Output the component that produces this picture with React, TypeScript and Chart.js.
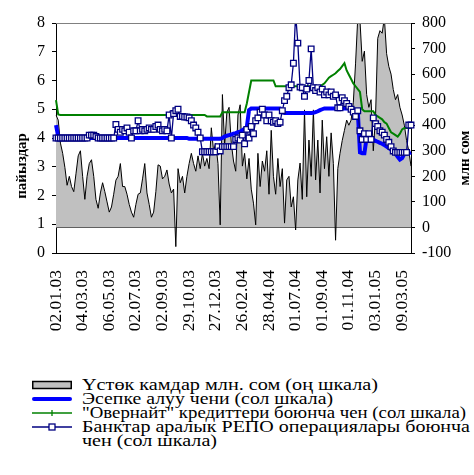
import React, { useEffect, useRef } from 'react';
import { Chart, registerables } from 'chart.js';

Chart.register(...registerables);

const tickDates = ['02.01.03', '04.03.03', '06.05.03', '02.07.03', '02.09.03', '29.10.03', '27.12.03', '26.02.04', '28.04.04', '01.07.04', '01.09.04', '01.11.04', '03.01.05', '09.03.05'];
const pointsPerTick = 12;

const leftTitle = 'пайыздар';
const rightTitle = 'млн сом';

const seriesNames = [
  'Үстөк камдар млн. сом (оң шкала)',
  'Эсепке алуу чени (сол шкала)',
  '"Овернайт" кредиттери боюнча чен (сол шкала)',
  'Банктар аралык РЕПО операциялары боюнча',
  'чен (сол шкала)',
];

// excess reserves, mln som (right scale)
const reserves = [
  440, 420, 330, 290, 235, 165, 200, 160, 140, 210,
  280, 300, 200, 110, 200, 250, 265, 200, 110, 75,
  135, 175, 140, 100, 60, 80, 130, 185, 200, 250,
  160, 160, 130, 90, 60, 40, 90, 130, 135, 190,
  250, 135, 90, 40, 60, 140, 245, 240, 190, 200,
  225, 170, 135, 150, -75, 230, 175, 200, 135, 200,
  250, 290, 250, 220, 280, 230, 290, 240, 270, 230,
  390, 300, 330, 250, 10, 520, 320, 450, 470, 330,
  260, 220, 440, 480, 240, 290, 190, 270, 150, 95,
  10, 290, 160, 260, 220, 300, 130, 380, 200, 130,
  270, 160, 230, 17, 186, 200, 80, 120, -10, 186,
  252, 110, 460, 120, 342, 200, 460, 186, 342, 135,
  420, 230, 355, 200, 370, 250, -50, 230, 290, 340,
  380, 420, 400, 420, 490, 640, 820, 810, 650, 690,
  520, 470, 500, 300, 430, 740, 770, 760, 820, 680,
  630, 600, 540, 500, 520, 470, 440, 400, 340, 300,
  240,
];

// discount rate, % (left scale)
const discountRate = [
  4.45, 4.05, 4, 4, 4, 4, 4, 4, 4, 4,
  4, 4, 4, 4, 4, 4, 4, 4, 4, 4,
  4, 4, 4, 4, 4, 4, 4, 4, 4, 4,
  4, 4, 4, 4, 4, 4, 4, 4, 4, 4,
  4, 4, 4, 4, 4, 4, 4, 4, 4, 4,
  4, 4, 4, 4, 4, 4, 4, 4, 4, 4,
  3.97, 3.97, 3.97, 3.97, 3.97, 3.97, 3.97, 3.97, 3.97, 3.97,
  3.97, 3.97, 3.97, 3.97, 3.97, 4, 4.05, 4.08, 4.1, 4.12,
  4.15, 4.17, 4.2, 4.22, 4.27, 4.33, 4.38, 4.97, 5.03, 5.03,
  5.03, 5.03, 5.03, 5.03, 5.03, 5.03, 5.03, 5.03, 5.03, 5.03,
  5.03, 5.03, 4.9, 4.87, 4.87, 4.87, 4.87, 4.87, 4.87, 4.87,
  4.87, 4.87, 4.87, 4.87, 4.87, 4.87, 4.88, 4.9, 4.93, 4.97,
  5, 5.03, 5.03, 5.03, 5.03, 5.03, 5.03, 5.03, 5.03, 5.03,
  5.03, 5.03, 5.03, 5.03, 5, 4.97, 4.95, 3.5, 3.47, 3.47,
  4.02, 4, 3.98, 3.95, 3.9, 3.87, 3.83, 3.8, 3.75, 3.7,
  3.65, 3.6, 3.55, 3.45, 3.35, 3.25, 3.3, 3.45, 3.47, 3.47,
  3.5,
];

// overnight credit rate, % (left scale)
const overnightRate = [
  5.32, 4.82, 4.8, 4.8, 4.8, 4.8, 4.8, 4.8, 4.8, 4.8,
  4.8, 4.8, 4.8, 4.8, 4.8, 4.8, 4.8, 4.8, 4.8, 4.8,
  4.8, 4.8, 4.8, 4.8, 4.8, 4.8, 4.8, 4.8, 4.8, 4.8,
  4.8, 4.8, 4.8, 4.8, 4.8, 4.8, 4.8, 4.8, 4.8, 4.8,
  4.8, 4.8, 4.8, 4.8, 4.8, 4.8, 4.8, 4.8, 4.8, 4.8,
  4.8, 4.8, 4.8, 4.8, 4.8, 4.8, 4.8, 4.8, 4.8, 4.8,
  4.8, 4.8, 4.8, 4.8, 4.8, 4.8, 4.8, 4.8, 4.75, 4.75,
  4.75, 4.75, 4.75, 4.75, 4.75, 4.9, 4.9, 4.9, 4.9, 4.9,
  4.9, 4.9, 4.9, 4.9, 4.9, 4.9, 5.2, 5.6, 6, 6,
  6, 6, 6, 6, 6, 6, 6, 6, 6, 5.8,
  5.8, 5.8, 5.8, 5.8, 5.8, 5.8, 5.8, 5.8, 5.8, 5.8,
  5.8, 5.8, 5.8, 5.8, 5.8, 5.8, 5.8, 5.8, 5.8, 5.8,
  5.85, 5.9, 6, 6.1, 6.15, 6.2, 6.25, 6.33, 6.4, 6.5,
  6.6, 6.35, 6.2, 6.05, 5.9, 5.8, 5.7, 5.6, 5, 4.93,
  4.93, 4.93, 4.93, 4.93, 4.8, 4.75, 4.7, 4.65, 4.55, 4.5,
  4.35, 4.2, 4.15, 4.1, 4.05, 4.15, 4.3, 4.35, 4.35, 4.35,
  4.35,
];

// interbank REPO rate, % (left scale)
const repoRate = [
  4, 4, 4, 4, 4, 4, 4, 4, 4, 4,
  4, 4, 4, 4, 4, 4.1, 4.1, 4.1, 4.05, 4,
  4, 4, 4, 4, 4, 4, 4, 4.47, 4.3, 4.2,
  4.3, 4.25, 4.35, 4.2, 4, 4.25, 4.25, 4.6, 4.25, 4.3,
  4.25, 4.3, 4.35, 4.3, 4.3, 4.4, 4.45, 4.3, 4.25, 4.3,
  4.25, 4.8, 4, 4.85, 4.95, 5, 4.75, 4.75, 4.73, 4.73,
  4.7, 4.6, 4.45, 4.35, 4.2, 4, 3.52, 3.52, 3.52, 3.52,
  3.52, 3.52, 3.52, 3.7, 3.55, 3.7, 3.7, 3.7, 3.7, 3.7,
  3.7, 3.95, 4, 3.93, 4.1, 3.8, 4.3, 4, 4.4, 4.15,
  4.6, 4.7, 4.9, 5, 4.8, 4.6, 4.8, 4.6, 4.55, 4.6,
  4.5, 4.55, 4.95, 5.3, 5.45, 5.75, 5.85, 6.6, 8.3, 7.3,
  5.77, 5.75, 5.45, 5.7, 6, 7.1, 5.75, 5.65, 5.75, 5.6,
  5.7, 5.5, 5.6, 5.5, 5.6, 5.45, 5.5, 5.05, 5.05, 5.4,
  5.3, 5.2, 5.1, 5, 4.9, 4.75, 4.95, 4.25, 3.95, 4.15,
  3.95, 4.15, 3.95, 4.7, 4.5, 4.4, 4.25, 4.2, 4.1, 3.95,
  3.85, 3.7, 3.55, 3.5, 3.5, 3.5, 3.5, 3.5, 3.5, 4.45,
  4.45,
];

const labels = reserves.map((_, i) =>
  i % pointsPerTick === 0 && tickDates[i / pointsPerTick] ? tickDates[i / pointsPerTick] : ''
);

const FONT = '"Liberation Serif", "Times New Roman", serif';
const LEGEND_FONT = `16.5px ${FONT}`;
// rendered widths (px) of the legend text lines
const legendLineWidths = [296, 251, 384, 388, 135];

let measureCtx: CanvasRenderingContext2D | null = null;
function fitScale(text: string, target: number): number {
  if (typeof document === 'undefined') return 1;
  if (!measureCtx) measureCtx = document.createElement('canvas').getContext('2d');
  if (!measureCtx) return 1;
  measureCtx.font = LEGEND_FONT;
  const w = measureCtx.measureText(text).width;
  return w > 0 ? target / w : 1;
}

const decorPlugin = {
  id: 'decor',
  afterDraw(chart: any) {
    const { ctx, chartArea: a } = chart;
    ctx.save();
    ctx.strokeStyle = '#808080';
    ctx.lineWidth = 1;
    ctx.beginPath();
    ctx.moveTo(a.left, a.top + 0.5);
    ctx.lineTo(a.right, a.top + 0.5);
    ctx.stroke();
    ctx.fillStyle = '#000';
    ctx.font = `bold 15px ${FONT}`;
    ctx.textAlign = 'center';
    ctx.textBaseline = 'middle';
    ctx.save();
    ctx.translate(22, 166);
    ctx.rotate(-Math.PI / 2);
    ctx.fillText(leftTitle, 0, 0);
    ctx.restore();
    ctx.save();
    ctx.translate(465, 158);
    ctx.rotate(-Math.PI / 2);
    ctx.fillText(rightTitle, 0, 0);
    ctx.restore();
    ctx.restore();
  },
};

function LegendIcon({ kind }: { kind: number }) {
  return (
    <svg width={40} height={14} style={{ display: 'block', flex: 'none' }}>
      {kind === 0 && <rect x={0.75} y={3.5} width={38.5} height={7} fill="#C0C0C0" stroke="#000" strokeWidth={1.5} />}
      {kind === 1 && <line x1={2} y1={7} x2={38} y2={7} stroke="#0000FF" strokeWidth={4} strokeLinecap="round" />}
      {kind === 2 && (
        <g>
          <line x1={0} y1={7} x2={40} y2={7} stroke="#008000" strokeWidth={1.3} />
          <line x1={20} y1={4} x2={20} y2={10} stroke="#008000" strokeWidth={1.3} />
        </g>
      )}
      {kind === 3 && (
        <g>
          <line x1={0} y1={7} x2={40} y2={7} stroke="#000080" strokeWidth={1.3} />
          <rect x={17} y={4} width={6} height={6} fill="#fff" stroke="#000080" strokeWidth={1.3} />
        </g>
      )}
    </svg>
  );
}

function LegendText({ idx, offset }: { idx: number; offset: number }) {
  const s = fitScale(seriesNames[idx], legendLineWidths[idx]);
  return (
    <span
      style={{
        marginLeft: offset,
        display: 'inline-block',
        transform: `scaleX(${s})`,
        transformOrigin: 'left center',
      }}
    >
      {seriesNames[idx]}
    </span>
  );
}

export default function App() {
  const ref = useRef<HTMLCanvasElement | null>(null);

  useEffect(() => {
    if (!ref.current) return;
    const yFont = { family: FONT, size: 16 };
    const xFont = { family: FONT, size: 17.5 };
    const chart = new Chart(ref.current, {
      type: 'line',
      data: {
        labels,
        datasets: [
          {
            label: seriesNames[0],
            data: reserves,
            yAxisID: 'y1',
            fill: 'origin',
            backgroundColor: '#C0C0C0',
            borderColor: '#000000',
            borderWidth: 1,
            pointRadius: 0,
            tension: 0,
            order: 4,
          },
          {
            label: seriesNames[1],
            data: discountRate,
            yAxisID: 'y',
            fill: false,
            borderColor: '#0000FF',
            borderWidth: 4,
            pointRadius: 0,
            tension: 0,
            order: 3,
          },
          {
            label: seriesNames[2],
            data: overnightRate,
            yAxisID: 'y',
            fill: false,
            borderColor: '#008000',
            borderWidth: 2,
            pointRadius: 0,
            tension: 0,
            order: 2,
          },
          {
            label: seriesNames[3],
            data: repoRate,
            yAxisID: 'y',
            fill: false,
            borderColor: '#000080',
            borderWidth: 1.3,
            pointStyle: 'rect',
            pointRadius: 4,
            pointBackgroundColor: '#FFFFFF',
            pointBorderColor: '#000080',
            pointBorderWidth: 1.3,
            tension: 0,
            order: 1,
          },
        ],
      },
      options: {
        animation: false,
        responsive: false,
        maintainAspectRatio: false,
        layout: { padding: { top: 23, left: 0, right: 0, bottom: 0 } },
        plugins: { legend: { display: false }, tooltip: { enabled: false } },
        scales: {
          x: {
            type: 'category',
            offset: false,
            grid: { display: false, drawTicks: false },
            border: { display: true, color: '#000', width: 1 },
            ticks: {
              autoSkip: false,
              maxRotation: 90,
              minRotation: 90,
              padding: 17,
              color: '#000',
              font: xFont,
            },
            afterFit: (s: any) => {
              s.height = 117;
            },
          },
          y: {
            position: 'left',
            min: 0,
            max: 8,
            ticks: { stepSize: 1, padding: 7, color: '#000', font: yFont },
            grid: { drawOnChartArea: false, tickLength: 4, color: '#000' },
            border: { display: true, color: '#000', width: 1 },
            afterFit: (s: any) => {
              s.width = 56;
            },
          },
          y1: {
            position: 'right',
            min: -100,
            max: 800,
            ticks: { stepSize: 100, padding: 7, color: '#000', font: yFont },
            grid: {
              drawOnChartArea: true,
              tickLength: 4,
              tickColor: '#000',
              color: (ctx: any) => (ctx.tick && ctx.tick.value === 0 ? '#000' : 'rgba(0,0,0,0)'),
            },
            border: { display: true, color: '#000', width: 1 },
            afterFit: (s: any) => {
              s.width = 63;
            },
          },
        },
      } as any,
      plugins: [decorPlugin],
    });
    return () => chart.destroy();
  }, []);

  const rowStyle: React.CSSProperties = {
    display: 'flex',
    alignItems: 'center',
    height: 14,
    whiteSpace: 'nowrap',
  };

  return (
    <div style={{ position: 'absolute', left: 0, top: 0, width: 474, height: 475, background: '#fff', overflow: 'hidden' }}>
      <canvas ref={ref} width={474} height={370} style={{ position: 'absolute', left: 0, top: 0 }} />
      <div style={{ position: 'absolute', left: 32, top: 378, font: LEGEND_FONT, color: '#000', lineHeight: '14px' }}>
        {[0, 1, 2, 3].map((k) => (
          <div key={k} style={rowStyle}>
            <LegendIcon kind={k} />
            <LegendText idx={k} offset={10} />
          </div>
        ))}
        <div style={rowStyle}>
          <LegendText idx={4} offset={50} />
        </div>
      </div>
    </div>
  );
}
